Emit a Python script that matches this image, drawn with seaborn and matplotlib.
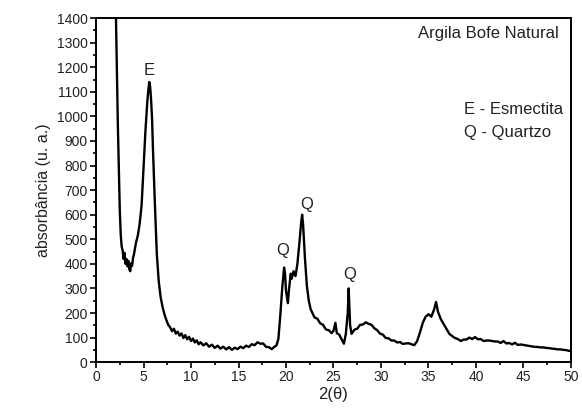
import numpy as np
import pandas as pd
import matplotlib
matplotlib.use("Agg")
import matplotlib.pyplot as plt
from matplotlib.ticker import MultipleLocator
import seaborn as sns

# difratograma (2theta, intensidade)
dois_theta = [
    2.0, 2.1, 2.3, 2.5, 2.6, 2.7, 2.8, 2.9, 3.0, 3.1, 3.2, 3.3, 3.4, 3.5, 3.6, 3.7, 3.8, 3.9,
    4.0, 4.2, 4.4, 4.6, 4.8, 5.0, 5.2, 5.4, 5.5, 5.6, 5.7, 5.8, 5.9, 6.0, 6.2, 6.4, 6.6, 6.8,
    7.0, 7.2, 7.4, 7.6, 7.8, 8.0, 8.2, 8.4, 8.6, 8.8, 9.0, 9.2, 9.4, 9.6, 9.8, 10.0, 10.2,
    10.4, 10.6, 10.8, 11.0, 11.3, 11.6, 11.9, 12.2, 12.5, 12.8, 13.1, 13.4, 13.7, 14.0, 14.3,
    14.6, 14.9, 15.2, 15.5, 15.8, 16.1, 16.4, 16.7, 17.0, 17.3, 17.6, 17.9, 18.2, 18.5, 18.8,
    19.0, 19.2, 19.4, 19.6, 19.8, 19.9, 20.0, 20.2, 20.3, 20.5, 20.6, 20.8, 21.0, 21.2, 21.4,
    21.6, 21.7, 21.8, 22.0, 22.2, 22.4, 22.6, 22.8, 23.0, 23.3, 23.6, 23.9, 24.2, 24.5, 24.8,
    25.0, 25.2, 25.35, 25.6, 25.9, 26.1, 26.3, 26.5, 26.6, 26.75, 26.9, 27.2, 27.5, 27.8,
    28.1, 28.4, 28.7, 29.0, 29.3, 29.6, 29.9, 30.2, 30.5, 30.8, 31.1, 31.4, 31.7, 32.0, 32.3,
    32.6, 32.9, 33.2, 33.5, 33.8, 34.1, 34.4, 34.7, 35.0, 35.3, 35.6, 35.8, 36.0, 36.3, 36.6,
    36.9, 37.2, 37.5, 37.8, 38.1, 38.4, 38.7, 39.0, 39.3, 39.6, 39.9, 40.2, 40.5, 40.8, 41.1,
    41.4, 41.7, 42.0, 42.3, 42.6, 42.9, 43.2, 43.5, 43.8, 44.1, 44.4, 44.7, 45.0, 45.3, 45.6,
    45.9, 46.2, 46.5, 46.8, 47.1, 47.4, 47.7, 48.0, 48.3, 48.6, 48.9, 49.2, 49.5, 49.8, 50.0,
]
intensidade = [
    1480, 1400, 960, 620, 520, 470, 455, 420, 445, 400, 420, 390, 412, 378, 370, 402, 392, 425,
    440, 485, 515, 565, 640, 790, 940, 1060, 1105, 1140, 1120, 1065, 990, 860, 640, 440, 330, 265,
    225, 195, 172, 152, 142, 126, 136, 116, 124, 108, 117, 98, 110, 93, 103, 86, 96,
    80, 89, 73, 81, 68, 77, 63, 71, 58, 67, 55, 63, 52, 61, 50,
    59, 53, 63, 57, 67, 62, 73, 69, 81, 75, 76, 62, 61, 53, 63,
    68, 95, 190, 300, 385, 360, 290, 240, 290, 360, 340, 370, 350, 400, 480,
    570, 600, 560, 420, 310, 250, 215, 198, 182, 177, 158, 152, 133, 130, 118,
    127, 160, 118, 112, 90, 75, 115, 200, 300, 150, 115, 132, 136, 152,
    153, 162, 156, 152, 138, 130, 116, 112, 98, 97, 88, 88, 80, 82, 74,
    76, 77, 73, 69, 85, 120, 160, 185, 195, 185, 215, 245, 205, 175, 155,
    135, 115, 106, 98, 94, 86, 92, 92, 100, 94, 102, 93, 94, 86, 88,
    88, 86, 84, 84, 78, 86, 76, 78, 72, 79, 70, 72, 70, 68, 66,
    64, 62, 62, 60, 60, 58, 57, 55, 54, 52, 52, 50, 49, 46, 45,
]

# rótulos dos picos
picos_txt = ["E", "Q", "Q", "Q"]
picos_x = [5.6, 19.7, 22.2, 26.7]
picos_y = [1185, 455, 640, 355]

df = pd.DataFrame({"2theta": dois_theta, "I": intensidade})

sns.set_style("white")
plt.rcParams["font.family"] = ["Liberation Sans", "DejaVu Sans"]

fig = plt.figure(figsize=(5.82, 4.12), dpi=100)
ax = fig.add_axes([0.165, 0.121, 0.816, 0.835])

sns.lineplot(data=df, x="2theta", y="I", color="black", linewidth=1.7,
             estimator=None, ax=ax)

ax.set_xlim(0, 50)
ax.set_ylim(0, 1400)
ax.xaxis.set_major_locator(MultipleLocator(5))
ax.xaxis.set_minor_locator(MultipleLocator(2.5))
ax.yaxis.set_major_locator(MultipleLocator(100))
ax.yaxis.set_minor_locator(MultipleLocator(50))
ax.tick_params(which="both", direction="out", bottom=True, left=True,
               top=False, right=False, width=1.2, labelsize=10,
               colors="black", labelcolor="#222222", pad=2)
ax.tick_params(which="major", length=4)
ax.tick_params(which="minor", length=2.5)
for s in ax.spines.values():
    s.set_linewidth(1.4)
    s.set_color("black")

ax.set_xlabel("2(θ)", fontsize=12, labelpad=2, color="#222222")
ax.set_ylabel("absorbância (u. a.)", fontsize=11.5, labelpad=4, color="#222222")

for t, x, y in zip(picos_txt, picos_x, picos_y):
    ax.text(x, y, t, ha="center", va="center", fontsize=12, color="#222222")

ax.text(0.975, 0.955, "Argila Bofe Natural", transform=ax.transAxes,
        ha="right", va="center", fontsize=12, color="#222222")
ax.text(0.775, 0.735, "E - Esmectita", transform=ax.transAxes,
        ha="left", va="center", fontsize=12, color="#222222")
ax.text(0.775, 0.668, "Q - Quartzo", transform=ax.transAxes,
        ha="left", va="center", fontsize=12, color="#222222")

fig.savefig("out.png", dpi=100)
